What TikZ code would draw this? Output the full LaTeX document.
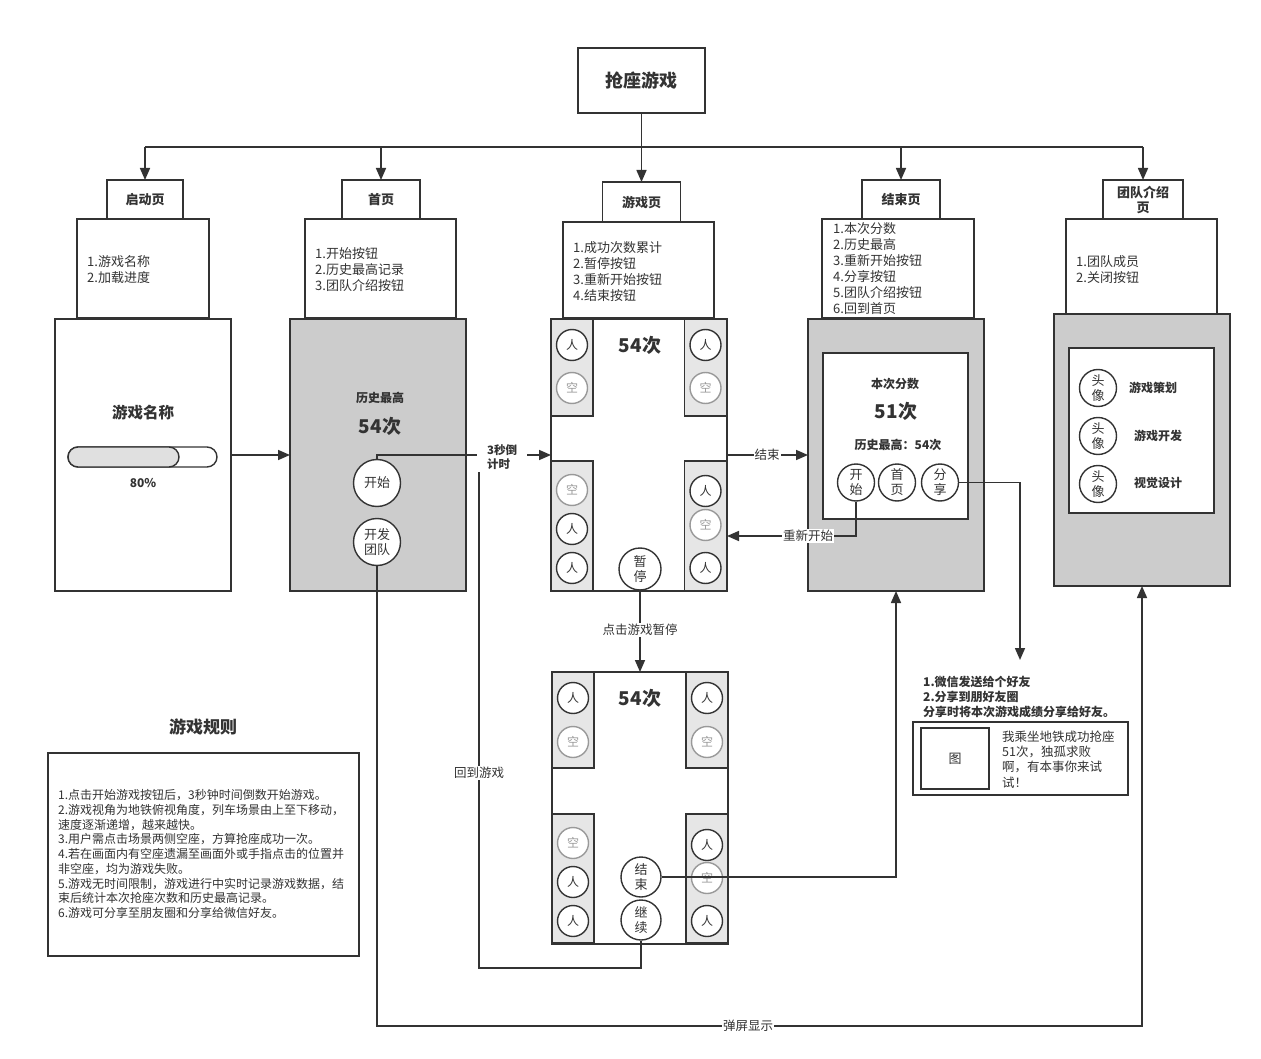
\documentclass[tikz,border=0pt]{standalone}
\usepackage{fontspec}
\setmainfont{Noto Sans CJK SC}
\usetikzlibrary{arrows.meta}
\definecolor{lc}{HTML}{333333}
\definecolor{scr}{HTML}{CCCCCC}
\definecolor{strip}{HTML}{E6E6E6}
\definecolor{es}{HTML}{999999}
\definecolor{bar}{HTML}{E0E0E0}
\begin{document}
\begin{tikzpicture}[x=1pt,y=-1pt,
  every node/.style={text=lc},
  box/.style={draw=lc,line width=1.6pt,fill=white,inner sep=0pt,outer sep=0pt,align=center},
  gbox/.style={box,fill=scr},
  sbox/.style={box,fill=strip,line width=1.4pt,minimum width=42pt},
  hdr/.style={font=\fontsize{13}{15}\selectfont\bfseries},
  desc/.style={font=\fontsize{13}{16}\selectfont,align=left,anchor=west,inner sep=0pt},
  seat/.style={circle,draw=lc,line width=1.4pt,fill=white,minimum size=31pt,inner sep=0pt,font=\fontsize{12}{12}\selectfont},
  eseat/.style={seat,draw=es,text=es},
  btn/.style={circle,draw=lc,line width=1.4pt,fill=white,inner sep=0pt,align=center,font=\fontsize{13}{15}\selectfont},
  big/.style={font=\fontsize{19}{21}\selectfont\bfseries},
  bsm/.style={font=\fontsize{12}{14}\selectfont\bfseries},
  arr/.style={draw=lc,line width=1.6pt,-{Triangle[length=12pt,width=10pt]}},
  ln/.style={draw=lc,line width=1.6pt},
  lab/.style={fill=white,inner sep=1pt,font=\fontsize{12.5}{14}\selectfont}]
\useasboundingbox (0,0) rectangle (1261,1059);
\fill[white] (0,0) rectangle (1261,1059);

% title
\node[box,minimum width=127pt,minimum height=65pt,font=\fontsize{18}{20}\selectfont\bfseries] (title) at (641.5,80.5) {抢座游戏};

% description boxes
\node[box,minimum width=132pt,minimum height=99pt] (d1) at (143,268.5) {};
\node[desc] (d1t) at (87,269.5) {1.游戏名称\\2.加载进度};
\node[box,minimum width=151pt,minimum height=99pt] (d2) at (380.5,268.5) {};
\node[desc] (d2t) at (315,269.5) {1.开始按钮\\2.历史最高记录\\3.团队介绍按钮};
\node[box,minimum width=151pt,minimum height=96pt] (d3) at (638.5,270) {};
\node[desc] (d3t) at (573,272) {1.成功次数累计\\2.暂停按钮\\3.重新开始按钮\\4.结束按钮};
\node[box,minimum width=152pt,minimum height=99pt] (d4) at (898,268.5) {};
\node[desc] (d4t) at (833,269) {1.本次分数\\2.历史最高\\3.重新开始按钮\\4.分享按钮\\5.团队介绍按钮\\6.回到首页};
\node[box,minimum width=151pt,minimum height=95pt] (d5) at (1141.5,266.5) {};
\node[desc] (d5t) at (1076,269.5) {1.团队成员\\2.关闭按钮};

% header labels
\node[box,hdr,minimum width=76pt,minimum height=39pt] (l1) at (145,199.5) {启动页};
\node[box,hdr,minimum width=78pt,minimum height=39pt] (l2) at (381,199.5) {首页};
\node[box,hdr,minimum width=78pt,minimum height=40pt] (l3) at (641.5,202) {游戏页};
\node[box,hdr,minimum width=78pt,minimum height=39pt] (l4) at (901,199.5) {结束页};
\node[box,hdr,minimum width=80pt,minimum height=39pt,font=\fontsize{13}{15}\selectfont\bfseries] (l5) at (1143,199.5) {团队介绍\\页};

% screen 1: start page
\node[box,minimum width=176pt,minimum height=272pt] (s1) at (143,455) {};
\node[font=\fontsize{15.5}{17}\selectfont\bfseries] (s1t) at (143,413) {游戏名称};
\draw[lc,line width=1.4pt,fill=white,rounded corners=10pt] (68,447) rectangle (217,467);
\draw[lc,line width=1.4pt,fill=bar,rounded corners=10pt] (68,447) rectangle (179,467);
\node[bsm] (s1p) at (143,483) {80\%};

% screen 2: home page
\node[gbox,minimum width=176pt,minimum height=272pt] (s2) at (378,455) {};
\node[bsm] (s2a) at (380,398) {历史最高};
\node[big] (s2b) at (380,426) {54次};
\node[btn,minimum size=47pt] (b1) at (377,483) {开始};
\node[btn,minimum size=47pt] (b2) at (377,542) {开发\\团队};

% screen 3: game page
\node[box,minimum width=176pt,minimum height=272pt] (s3) at (639,455) {};
\node[sbox,minimum height=97pt] (s3a) at (572,367.5) {};
\node[sbox,minimum height=97pt] (s3b) at (705.5,367.5) {};
\node[sbox,minimum height=130pt] (s3c) at (572,526) {};
\node[sbox,minimum height=130pt] (s3d) at (705.5,526) {};
\node[seat] (g1) at (572,345) {人};
\node[eseat] (g2) at (572,388) {空};
\node[seat] (g3) at (705.5,345) {人};
\node[eseat] (g4) at (705.5,388) {空};
\node[eseat] (g5) at (572,490) {空};
\node[seat] (g6) at (572,529) {人};
\node[seat] (g7) at (572,568) {人};
\node[seat] (g8) at (705.5,491) {人};
\node[eseat] (g9) at (705.5,525) {空};
\node[seat] (g10) at (705.5,568) {人};
\node[big] (s3n) at (640,345) {54次};
\node[btn,minimum size=42pt] (pz) at (640,569) {暂\\停};

% screen 4: end page
\node[gbox,minimum width=176pt,minimum height=272pt] (s4) at (896,455) {};
\node[box,minimum width=145pt,minimum height=166pt] (s4i) at (895.5,436) {};
\node[bsm] (s4a) at (895,384) {本次分数};
\node[big] (s4b) at (896,411) {51次};
\node[bsm] (s4c) at (898,445) {历史最高：54次};
\node[btn,minimum size=37pt] (e1) at (856,482.5) {开\\始};
\node[btn,minimum size=37pt] (e2) at (897,482.5) {首\\页};
\node[btn,minimum size=37pt] (e3) at (940,482.5) {分\\享};

% screen 5: team page
\node[gbox,minimum width=176pt,minimum height=272pt] (s5) at (1142,450) {};
\node[box,minimum width=145pt,minimum height=165pt] (s5i) at (1141.5,430.5) {};
\node[btn,minimum size=37pt] (t1) at (1098,388) {头\\像};
\node[btn,minimum size=37pt] (t2) at (1098,436) {头\\像};
\node[btn,minimum size=37pt] (t3) at (1098,484) {头\\像};
\node[bsm] (t1l) at (1153,388) {游戏策划};
\node[bsm] (t2l) at (1158,436) {游戏开发};
\node[bsm] (t3l) at (1158,483) {视觉设计};

% screen 6: paused game
\node[box,minimum width=176pt,minimum height=272pt] (s6) at (640,808) {};
\node[sbox,minimum height=96pt] (s6a) at (573,720) {};
\node[sbox,minimum height=96pt] (s6b) at (707,720) {};
\node[sbox,minimum height=129pt] (s6c) at (573,878.5) {};
\node[sbox,minimum height=129pt] (s6d) at (707,878.5) {};
\node[seat] (h1) at (573,698) {人};
\node[eseat] (h2) at (573,742) {空};
\node[seat] (h3) at (707,698) {人};
\node[eseat] (h4) at (707,742) {空};
\node[eseat] (h5) at (573,843) {空};
\node[seat] (h6) at (573,882) {人};
\node[seat] (h7) at (573,921) {人};
\node[seat] (h8) at (707,845) {人};
\node[eseat] (h9) at (707,878) {空};
\node[seat] (h10) at (707,921) {人};
\node[big] (s6n) at (640,698) {54次};
\node[btn,minimum size=40pt] (p1) at (641,877) {结\\束};
\node[btn,minimum size=40pt] (p2) at (641,920) {继\\续};

% share area
\node[anchor=west,align=left,inner sep=0pt,font=\fontsize{12}{15}\selectfont\bfseries] (sh) at (923,697) {1.微信发送给个好友\\2.分享到朋好友圈\\分享时将本次游戏成绩分享给好友。};
\node[box,minimum width=215pt,minimum height=73pt] (shb) at (1020.5,758.5) {};
\node[box,minimum width=68pt,minimum height=61pt,font=\fontsize{13}{15}\selectfont] (img) at (955,758.5) {图};
\node[desc,font=\fontsize{12.5}{15.2}\selectfont] (sht) at (1002,759.5) {我乘坐地铁成功抢座\\51次，独孤求败\\啊，有本事你来试\\试！};

% rules
\node[font=\fontsize{17}{19}\selectfont\bfseries] (rt) at (203,727) {游戏规则};
\node[box,minimum width=311pt,minimum height=203pt] (rb) at (203.5,854.5) {};
\node[anchor=west,align=left,inner sep=0pt,font=\fontsize{12}{14.75}\selectfont] (rtx) at (58,854) {1.点击开始游戏按钮后，3秒钟时间倒数开始游戏。\\2.游戏视角为地铁俯视角度，列车场景由上至下移动，\\速度逐渐递增，越来越快。\\3.用户需点击场景两侧空座，方算抢座成功一次。\\4.若在画面内有空座遗漏至画面外或手指点击的位置并\\非空座，均为游戏失败。\\5.游戏无时间限制，游戏进行中实时记录游戏数据，结\\束后统计本次抢座次数和历史最高记录。\\6.游戏可分享至朋友圈和分享给微信好友。};

% connectors
\coordinate (bL) at (145,147);
\coordinate (bR) at (1143,147);
\draw[ln] (bL) -- (bR);
\draw[arr] (title.south) -- (l3.north);
\draw[arr] (bL) -- (l1.north);
\draw[arr] (l2.north |- bL) -- (l2.north);
\draw[arr] (l4.north |- bL) -- (l4.north);
\draw[arr] (bR) -- (l5.north);

\draw[arr] (s1.east) -- (s2.west);
\draw[arr] (b1.north) |- (s3.west);
\draw[arr] (s3.east) -- (s4.west);
\coordinate (rs) at (727,536);
\draw[arr] (e1.south) |- (rs);
\draw[arr] (pz.south) -- (s6.north);
\coordinate (shend) at (1020,660);
\draw[arr] (e3.east) -| (shend);
\draw[arr] (p1.east) -| (s4.south);
\coordinate (ret) at (479,472);
\coordinate (retb) at (479,968);
\draw[ln] (p2.south) |- (retb) -- (ret);
\coordinate (bot) at (377,1026);
\draw[arr] (b2.south) -- (bot) -- (s5.south |- bot) -- (s5.south);

% connector labels
\node[fill=white,align=left,inner xsep=10pt,inner ysep=2pt,font=\fontsize{11.5}{13.5}\selectfont\bfseries] (cd) at (502,457) {3秒倒\\计时};
\node[lab] (ce) at (767,455) {结束};
\node[lab] (cr) at (808,536) {重新开始};
\node[lab] (cp) at (640,630) {点击游戏暂停};
\node[lab] (cb) at (479,773) {回到游戏};
\node[lab] (cs) at (748,1026) {弹屏显示};
\end{tikzpicture}
\end{document}
